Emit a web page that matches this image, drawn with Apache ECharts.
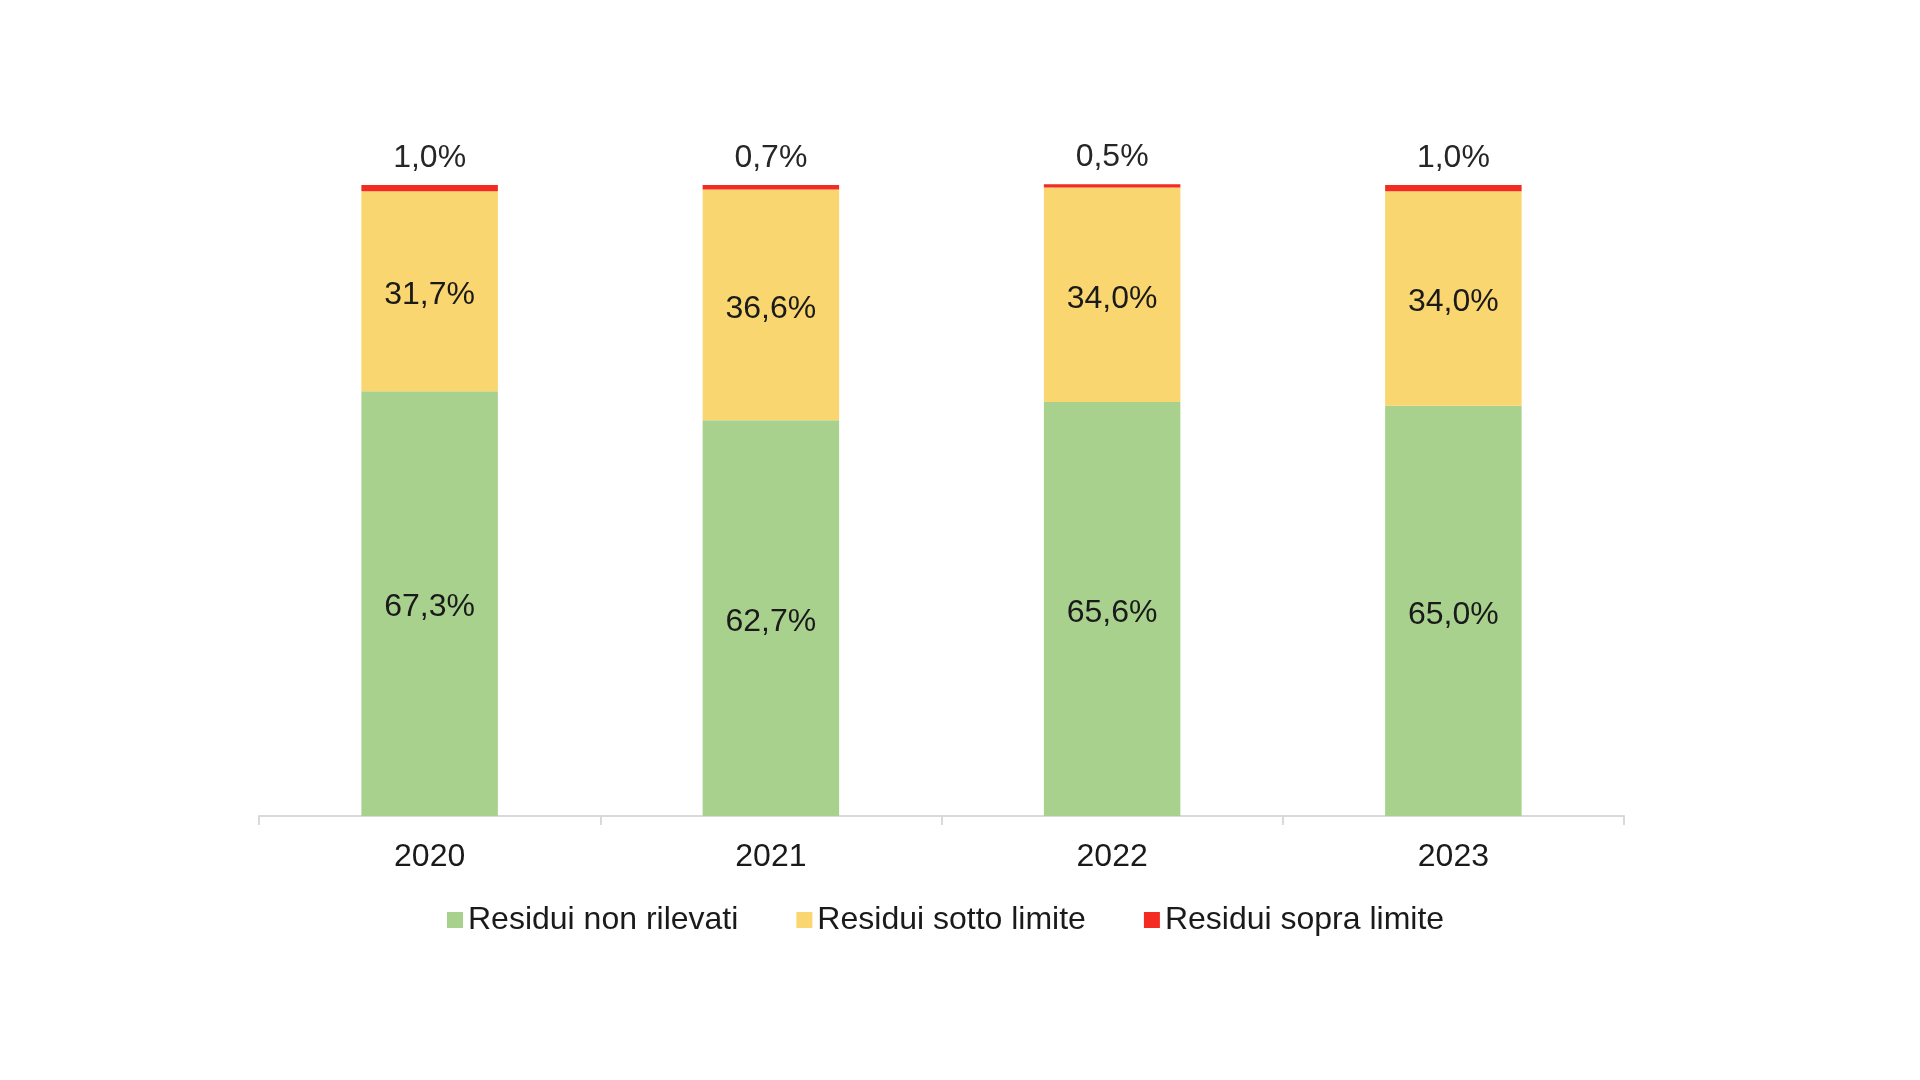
<!DOCTYPE html>
<html>
<head>
<meta charset="utf-8">
<script src="https://cdn.jsdelivr.net/npm/echarts@6/dist/echarts.min.js"></script>
<style>
  html, body { margin: 0; padding: 0; background: #fff; }
  #chart { width: 1920px; height: 1080px; }
</style>
</head>
<body>
<div id="chart"></div>
<script>
// dati
const anni = ['2020', '2021', '2022', '2023'];
const nonRilevati = [67.3, 62.7, 65.6, 65.0];
const sottoLimite = [31.7, 36.6, 34.0, 34.0];
const sopraLimite = [1.0, 0.7, 0.5, 1.0];
const nomiSerie = ['Residui non rilevati', 'Residui sotto limite', 'Residui sopra limite'];

const colori = {
    verde: '#A9D18E',
    giallo: '#F9D66F',
    rosso: '#F42B22',
    testo: '#1A1A1A',
    asse: '#D9D9D9'
};

const font = 'Liberation Sans, Arial, sans-serif';

// formato italiano con la virgola
const fmt = (p) => p.value.toFixed(1).replace('.', ',') + '%';

const chart = echarts.init(document.getElementById('chart'));

const labelDentro = {
    show: true,
    position: 'inside',
    offset: [0, 4],
    formatter: fmt,
    color: colori.testo,
    fontSize: 32,
    fontFamily: font
};

const option = {
    backgroundColor: '#fff',
    animation: false,
    grid: {
        left: 259,
        right: 296,
        top: 185,
        bottom: 264
    },
    legend: {
        data: nomiSerie,
        left: 442,
        top: 899,
        icon: 'rect',
        itemWidth: 16,
        itemHeight: 16,
        itemGap: 58,
        textStyle: {
            color: colori.testo,
            fontSize: 32,
            fontFamily: font
        }
    },
    xAxis: {
        type: 'category',
        data: anni,
        axisLine: {
            lineStyle: { color: colori.asse, width: 2 }
        },
        axisTick: {
            show: true,
            length: 9,
            lineStyle: { color: colori.asse, width: 2 }
        },
        axisLabel: {
            color: colori.testo,
            fontSize: 32,
            fontFamily: font,
            margin: 25
        }
    },
    yAxis: {
        type: 'value',
        min: 0,
        max: 100,
        show: false,
        splitLine: { show: false }
    },
    series: [{
        name: nomiSerie[0],
        type: 'bar',
        stack: 'tot',
        data: nonRilevati,
        barWidth: '40%',
        itemStyle: { color: colori.verde },
        label: labelDentro
    }, {
        name: nomiSerie[1],
        type: 'bar',
        stack: 'tot',
        data: sottoLimite,
        itemStyle: { color: colori.giallo },
        label: labelDentro
    }, {
        name: nomiSerie[2],
        type: 'bar',
        stack: 'tot',
        data: sopraLimite,
        clip: false,
        itemStyle: { color: colori.rosso },
        label: {
            ...labelDentro,
            position: 'top',
            offset: [0, 0],
            distance: 11,
            color: '#262626'
        }
    }]
};

chart.setOption(option);
</script>
</body>
</html>
